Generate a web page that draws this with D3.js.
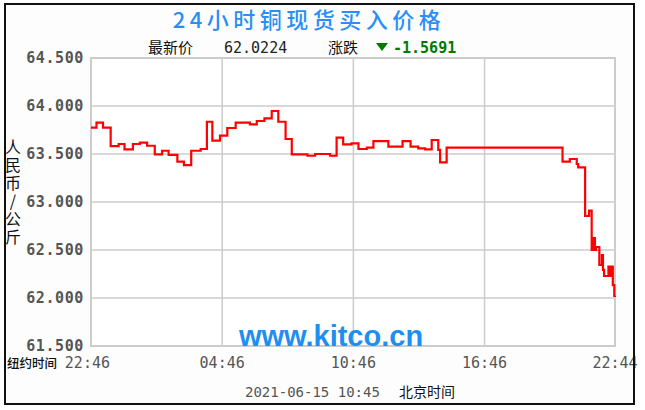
<!DOCTYPE html>
<html><head><meta charset="utf-8">
<script src="https://cdn.jsdelivr.net/npm/d3@7"></script>
<style>
html,body{margin:0;padding:0;background:#fff;}
svg{display:block;}
</style></head>
<body>
<script>
// ---- data ----
const title = "24小时铜现货买入价格";
const latestLabel = "最新价";
const latestValue = "62.0224";
const changeLabel = "涨跌";
const changeValue = "-1.5691";
const yAxisTitle = "人民币/公斤";
const xTickMinutes = [0, 360, 720, 1080, 1438];
const xTickLabels = ["22:46", "04:46", "10:46", "16:46", "22:44"];
const yTicks = [61.5, 62.0, 62.5, 63.0, 63.5, 64.0, 64.5];
const minutes = [0,15,33,54,76,92,115,134,154,175,195,213,237,255,275,301,318,333,354,374,397,436,455,476,496,514,534,551,594,615,656,674,692,715,734,757,775,816,855,877,898,917,935,953,958,976,1294,1314,1333,1337,1356,1367,1374,1380,1383,1386,1395,1402,1405,1408,1420,1424,1429,1432,1436,1438];
const prices = [63.774,63.826,63.774,63.583,63.604,63.549,63.604,63.618,63.586,63.497,63.534,63.490,63.420,63.385,63.534,63.552,63.836,63.639,63.691,63.771,63.826,63.809,63.844,63.872,63.948,63.836,63.656,63.497,63.482,63.500,63.482,63.670,63.601,63.611,63.552,63.566,63.635,63.576,63.635,63.576,63.559,63.549,63.646,63.542,63.413,63.566,63.420,63.448,63.396,63.361,62.854,62.910,62.500,62.625,62.500,62.531,62.344,62.448,62.292,62.229,62.326,62.229,62.326,62.135,62.022,62.0224];
const xLeftLabel = "纽约时间";
const dateLabel = "2021-06-15 10:45";
const tzLabel = "北京时间";
const watermark = "www.kitco.cn";

// ---- drawing ----
const W = 645, H = 410;
const plot = {l: 91, r: 615, t: 58, b: 346};
const svg = d3.select("body").append("svg").attr("width", W).attr("height", H);
const mono = "'DejaVu Sans Mono', monospace";
const cjk = "'Noto Sans CJK SC', sans-serif";

svg.append("rect").attr("x",5).attr("y",4).attr("width",629).attr("height",400).attr("fill","#fcfdfc");

const x = d3.scaleLinear().domain([0, 1438]).range([plot.l, plot.r]);
const y = d3.scaleLinear().domain([61.5, 64.5]).range([plot.b, plot.t]);

svg.append("rect").attr("x",plot.l).attr("y",plot.t).attr("width",plot.r-plot.l).attr("height",plot.b-plot.t)
  .attr("fill","#fff").attr("stroke","#cccccc").attr("stroke-width",2);

// grid
svg.append("g").selectAll("line").data(yTicks.slice(1,-1)).join("line")
  .attr("x1",plot.l).attr("x2",plot.r).attr("y1",d=>y(d)).attr("y2",d=>y(d))
  .attr("stroke","#cccccc").attr("stroke-width",1.5);
svg.append("g").selectAll("line").data(xTickMinutes.slice(1,-1)).join("line")
  .attr("y1",plot.t).attr("y2",plot.b).attr("x1",d=>x(d)).attr("x2",d=>x(d))
  .attr("stroke","#cccccc").attr("stroke-width",1.5);

// y tick labels
svg.append("g").selectAll("text").data(yTicks).join("text")
  .attr("x", 84).attr("y", d=>y(d)+5)
  .attr("text-anchor","end").attr("font-family",mono).attr("font-weight","bold")
  .attr("font-size",15).attr("letter-spacing",0.6).attr("fill","#555")
  .text(d=>d3.format(".3f")(d));

// x tick labels
svg.append("g").selectAll("text").data(xTickMinutes).join("text")
  .attr("x", (d,i)=> i===0 ? x(d)+19 : x(d)).attr("y", 368)
  .attr("text-anchor",(d,i)=> i===0 ? "end" : "middle")
  .attr("font-family",mono).attr("font-size",15).attr("fill","#555")
  .text((d,i)=>xTickLabels[i]);

svg.append("text").attr("x",7).attr("y",368).attr("font-family",cjk).attr("font-size",12.5)
  .attr("font-weight","500").attr("fill","#111").text(xLeftLabel);

// watermark
svg.append("text").attr("x",331).attr("y",346).attr("text-anchor","middle")
  .attr("font-family","'Liberation Sans', Arial, sans-serif").attr("font-weight","bold")
  .attr("font-size",29).attr("fill","#1e8ff0").text(watermark);

// line
const line = d3.line().x(d=>x(d[0])).y(d=>y(d[1])).curve(d3.curveStepAfter);
svg.append("path").datum(minutes.map((m,i)=>[m, prices[i]]))
  .attr("d", line).attr("fill","none").attr("stroke","#ff0000").attr("stroke-width",2.2);

// y axis title (vertical)
svg.append("text").attr("x", 13).attr("y", 139)
  .attr("font-family",cjk).attr("font-size",16).attr("fill","#111")
  .style("writing-mode","vertical-rl").style("text-orientation","upright")
  .attr("letter-spacing",2).text(yAxisTitle);

// title
svg.append("text").attr("x",309).attr("y",28).attr("text-anchor","middle")
  .attr("font-family",cjk).attr("font-size",22).attr("font-weight","500").attr("letter-spacing",4.5)
  .attr("fill","#2a8ff5").text(title);

// subtitle
const subY = 53;
svg.append("text").attr("x",148).attr("y",subY).attr("font-family",cjk).attr("font-size",15)
  .attr("fill","#111").text(latestLabel);
svg.append("text").attr("x",224).attr("y",subY).attr("font-family",mono).attr("font-size",15)
  .attr("fill","#222").text(latestValue);
svg.append("text").attr("x",328).attr("y",subY).attr("font-family",cjk).attr("font-size",15)
  .attr("fill","#111").text(changeLabel);
svg.append("path").attr("d","M376,43 L388,43 L382,51 Z").attr("fill","#007a00");
svg.append("text").attr("x",393).attr("y",subY).attr("font-family",mono).attr("font-weight","bold")
  .attr("font-size",15).attr("fill","#007a00").text(changeValue);

// date line
svg.append("text").attr("x",245).attr("y",397).attr("font-family",mono).attr("font-size",14)
  .attr("fill","#555").text(dateLabel);
svg.append("text").attr("x",399).attr("y",397).attr("font-family",cjk).attr("font-size",14)
  .attr("fill","#111").text(tzLabel);

// outer border
svg.append("rect").attr("x",5).attr("y",4).attr("width",629).attr("height",400)
  .attr("fill","none").attr("stroke","#111").attr("stroke-width",2);
</script>
</body></html>
